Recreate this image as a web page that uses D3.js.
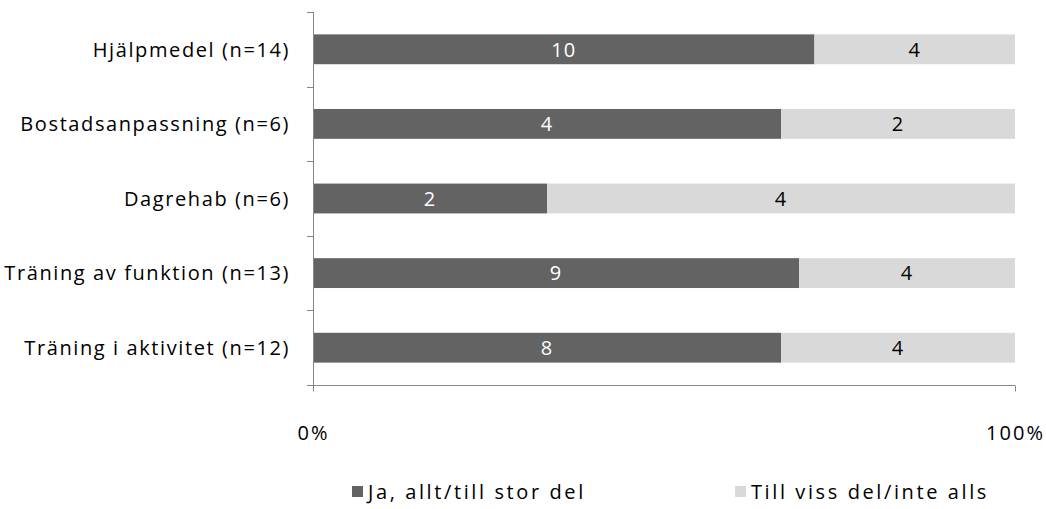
<!DOCTYPE html>
<html>
<head>
<meta charset="utf-8">
<script src="https://cdn.jsdelivr.net/npm/d3@7"></script>
<style>
  html, body { margin: 0; padding: 0; background: #fff; }
  svg { display: block; }
  text { font-family: "Open Sans", Lato, sans-serif; }
</style>
</head>
<body>
<svg id="chart" width="1046" height="509"></svg>
<script>
// Categories (top to bottom) and the counts for each answer group
const categories = [
  "Hjälpmedel (n=14)",
  "Bostadsanpassning (n=6)",
  "Dagrehab (n=6)",
  "Träning av funktion (n=13)",
  "Träning i  aktivitet (n=12)"
];
const yesValues = [10, 4, 2, 9, 8];
const partlyValues = [4, 2, 4, 4, 4];
const seriesNames = ["Ja, allt/till stor del", "Till viss del/inte alls"];
const seriesColors = ["#636363", "#d9d9d9"];
const xTickValues = [0, 1];

const svg = d3.select("#chart");
const margin = { left: 313, right: 31, top: 12, bottom: 124 };
const W = 1046, H = 509;
const fontSize = 20;

const x = d3.scaleLinear().domain([0, 1]).range([margin.left, W - margin.right]);
const y = d3.scaleBand().domain(categories).range([margin.top, H - margin.bottom])
  .paddingInner(0.6).paddingOuter(0.3);
const yOuter = d3.scaleBand().domain(categories).range([margin.top, H - margin.bottom]);

const rows = categories.map((c, i) => {
  const total = yesValues[i] + partlyValues[i];
  return {
    cat: c,
    segs: [
      { v: yesValues[i], x0: 0, x1: yesValues[i] / total, s: 0 },
      { v: partlyValues[i], x0: yesValues[i] / total, x1: 1, s: 1 }
    ]
  };
});

const axisColor = "#868686";

// Bars with centred count labels
const g = svg.append("g");
rows.forEach(r => {
  r.segs.forEach(s => {
    g.append("rect")
      .attr("x", x(s.x0))
      .attr("y", y(r.cat))
      .attr("width", x(s.x1) - x(s.x0))
      .attr("height", y.bandwidth())
      .attr("fill", seriesColors[s.s]);
    g.append("text")
      .attr("x", (x(s.x0) + x(s.x1)) / 2)
      .attr("y", y(r.cat) + y.bandwidth() / 2)
      .attr("dy", "0.36em")
      .attr("text-anchor", "middle")
      .attr("font-size", fontSize)
      .style("letter-spacing", "1px")
      .attr("fill", s.s === 0 ? "#ffffff" : "#000000")
      .text(s.v);
  });
});

// Category axis line with tick marks between categories
const yTop = margin.top, yBot = H - margin.bottom;
svg.append("line")
  .attr("x1", x(0) + 0.5).attr("x2", x(0) + 0.5)
  .attr("y1", yTop).attr("y2", yBot)
  .attr("stroke", axisColor).attr("stroke-width", 1);
const boundaries = categories.map(c => yOuter(c)).concat([yBot]);
boundaries.forEach(b => {
  svg.append("line")
    .attr("x1", x(0) - 6).attr("x2", x(0))
    .attr("y1", Math.round(b) + 0.5).attr("y2", Math.round(b) + 0.5)
    .attr("stroke", axisColor);
});

// Category labels
categories.forEach(c => {
  svg.append("text")
    .attr("x", 290)
    .attr("y", y(c) + y.bandwidth() / 2)
    .attr("dy", "0.36em")
    .attr("text-anchor", "end")
    .attr("font-size", fontSize)
    .style("letter-spacing", "1.6px")
    .attr("fill", "#000")
    .text(c);
});

// Value axis along the bottom
const xAxis = d3.axisBottom(x).tickValues(xTickValues).tickFormat(d3.format(".0%"))
  .tickSize(6).tickPadding(34);
const xa = svg.append("g")
  .attr("transform", `translate(0,${Math.round(yBot) + 0.5})`)
  .call(xAxis);
xa.select(".domain").attr("stroke", axisColor).attr("d", `M${x(0) - 6},0H${x(1)}`);
xa.selectAll(".tick line").attr("stroke", axisColor);
xa.selectAll(".tick text")
  .attr("font-size", fontSize)
  .attr("fill", "#000")
  .style("letter-spacing", "2px")
  .style("font-family", "'Open Sans', Lato, sans-serif");

// Legend
const legendX = [352, 735];
seriesNames.forEach((n, i) => {
  svg.append("rect")
    .attr("x", legendX[i]).attr("y", 486)
    .attr("width", 11).attr("height", 11)
    .attr("fill", seriesColors[i]);
  svg.append("text")
    .attr("x", legendX[i] + 16).attr("y", 499)
    .attr("font-size", fontSize)
    .style("letter-spacing", "2.6px")
    .attr("fill", "#000")
    .text(n);
});
</script>
</body>
</html>
